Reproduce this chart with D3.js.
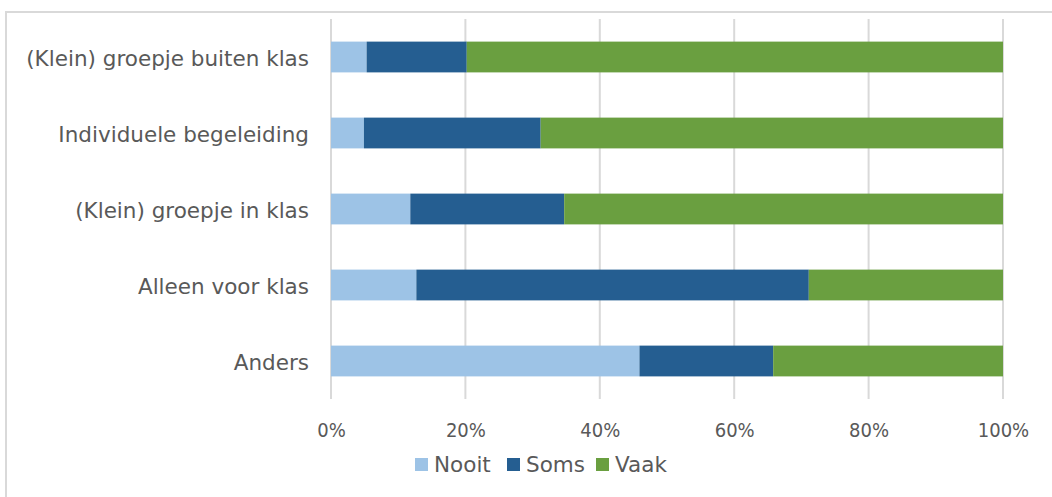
<!DOCTYPE html>
<html><head><meta charset="utf-8">
<script src="https://cdn.jsdelivr.net/npm/d3@7"></script>
<style>body{margin:0;background:#fff;} svg{display:block;}</style>
</head><body>
<svg id="c" width="1052" height="497"></svg>
<script>
const categories = ["(Klein) groepje buiten klas","Individuele begeleiding","(Klein) groepje in klas","Alleen voor klas","Anders"];
const seriesNames = ["Nooit","Soms","Vaak"];
const nooit = [5.3, 4.9, 11.8, 12.7, 45.9];
const soms  = [14.9, 26.3, 22.9, 58.4, 19.9];
const vaak  = [79.8, 68.8, 65.3, 28.9, 34.2];
const tickValues = [0, 20, 40, 60, 80, 100];
const colors = ["#9DC3E6","#255E91","#6A9F40"];

const fontC = "'DejaVu Sans Condensed','DejaVu Sans',sans-serif";
const fontR = "'DejaVu Sans',sans-serif";
const svg = d3.select("#c");
svg.append("rect").attr("x",6).attr("y",12).attr("width",1100).attr("height",600)
  .attr("fill","none").attr("stroke","#d9d9d9").attr("stroke-width",2);

const x = d3.scaleLinear().domain([0,100]).range([331,1003]);
const y = d3.scaleBand().domain(categories).range([19,399]).paddingInner(0.595).paddingOuter(0.2975);

const rows = categories.map((c,i)=>({cat:c, vals:[nooit[i],soms[i],vaak[i]]}));
const stack = d3.stack().keys([0,1,2]).value((d,k)=>d.vals[k]);
const layers = stack(rows);

// gridlines
svg.append("g").selectAll("line").data(tickValues).join("line")
  .attr("x1",d=>x(d)).attr("x2",d=>x(d)).attr("y1",19).attr("y2",399)
  .attr("stroke","#d9d9d9").attr("stroke-width",2);

svg.append("g").selectAll("g").data(layers).join("g")
  .attr("fill",(d,i)=>colors[i])
  .selectAll("rect").data(d=>d).join("rect")
  .attr("x",d=>x(d[0])).attr("width",d=>x(d[1])-x(d[0]))
  .attr("y",d=>y(d.data.cat)).attr("height",y.bandwidth());

// y labels
svg.append("g").selectAll("text").data(categories).join("text")
  .attr("x",309).attr("y",d=>y(d)+y.bandwidth()/2+9.3)
  .attr("text-anchor","end").attr("fill","#595959")
  .style("font-family",fontR).style("font-size","21.5px").text(d=>d);

// x axis labels
const xAxis = d3.axisBottom(x).tickValues(tickValues).tickSize(0).tickFormat(d=>d+"%");
const ax = svg.append("g").attr("transform","translate(0,420)").call(xAxis);
ax.select(".domain").remove();
ax.selectAll("text").attr("fill","#595959").style("font-family",fontC).style("font-size","20px");

// legend
const legX = [415, 507, 596];
const lg = svg.append("g").selectAll("g").data(seriesNames).join("g")
  .attr("transform",(d,i)=>`translate(${legX[i]},458)`);
lg.append("rect").attr("width",13).attr("height",13).attr("fill",(d,i)=>colors[i]);
lg.append("text").attr("x",19).attr("y",13.5).attr("fill","#595959")
  .style("font-family",fontR).style("font-size","21.5px").text(d=>d);
</script>
</body></html>
